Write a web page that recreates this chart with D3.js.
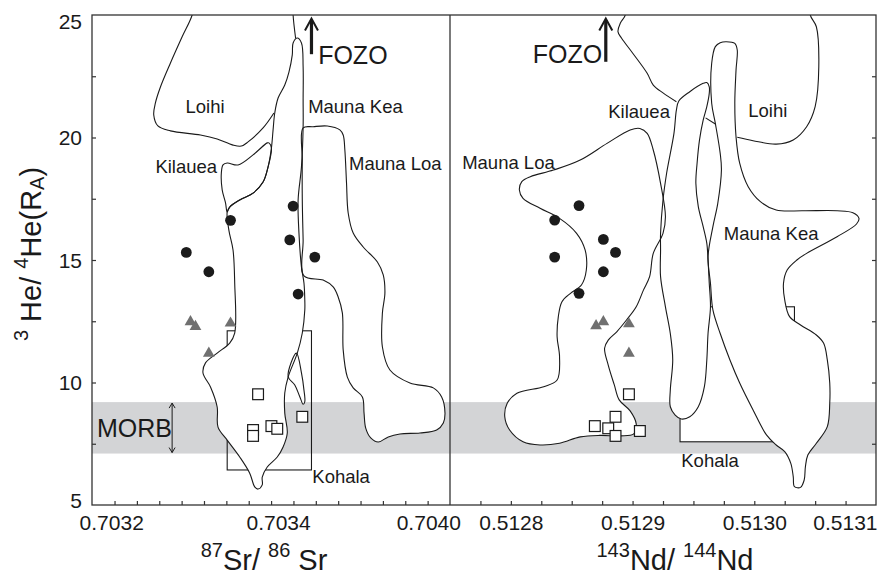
<!DOCTYPE html>
<html><head><meta charset="utf-8">
<script src="https://cdn.jsdelivr.net/npm/d3@7"></script>
<style>body{margin:0;background:#fff}svg{display:block}</style>
</head><body>
<svg id="chart" width="890" height="577"></svg>
<script>
// ---------------- DATA ----------------
const yTickValues = [5, 10, 15, 20, 25];
const yMinorTicks = [7.5, 10, 12.5, 15, 17.5, 20, 22.5];
const srTickValues = [0.7032, 0.7034, 0.70358];
const srTickLabels = ["0.7032", "0.7034", "0.7040"];
const ndTickValues = [0.5128, 0.5129, 0.5130, 0.5131];
const ndTickLabels = ["0.5128", "0.5129", "0.5130", "0.5131"];
const morbBand = [7.1, 9.2];

// samples: [87Sr/86Sr, 3He/4He]
const srCircles = [[0.703290,15.31],[0.703317,14.52],[0.703343,16.62],[0.703418,17.20],[0.703414,15.82],[0.703444,15.12],[0.703424,13.61]];
const srTriangles = [[0.703295,12.48],[0.703301,12.28],[0.703317,11.19],[0.703343,12.42]];
const srSquares = [[0.703376,9.52],[0.703429,8.60],[0.703392,8.22],[0.703399,8.11],[0.703370,8.06],[0.703370,7.82]];
// samples: [143Nd/144Nd, 3He/4He]
const ndCircles = [[0.512856,17.22],[0.512836,16.63],[0.512876,15.84],[0.512886,15.31],[0.512836,15.12],[0.512876,14.52],[0.512856,13.64]];
const ndTriangles = [[0.512870,12.31],[0.512876,12.48],[0.512897,12.39],[0.512897,11.19]];
const ndSquares = [[0.512897,9.52],[0.512886,8.60],[0.512869,8.22],[0.512880,8.13],[0.512886,7.82],[0.512906,8.02]];

// field outlines (Sr panel)
const srLoihi = [[0.703300,25.61],[0.703297,25.0],[0.703285,24.11],[0.703271,23.04],[0.703259,22.06],[0.703253,21.41],[0.703251,20.92],[0.703256,20.47],[0.703271,20.27],[0.703307,20.10],[0.703327,19.94],[0.703346,19.69],[0.703356,19.65],[0.703364,19.82],[0.703382,20.39],[0.703395,21.00]];
const srLoihiTop = [[0.703418,25.61],[0.703418,25.0],[0.703421,24.05]];
const srMaunaKea = [[0.703418,23.86],[0.703423,24.06],[0.703428,23.86],[0.703430,22.88],[0.703430,21.53],[0.703430,20.43],[0.703428,18.80],[0.703424,17.45],[0.703425,16.10],[0.703428,14.71],[0.703431,14.06],[0.703432,13.37],[0.703432,12.96],[0.703429,12.02],[0.703423,11.20],[0.703412,10.22],[0.703408,9.57],[0.703408,8.75],[0.703411,7.94],[0.703406,7.37],[0.703399,6.96],[0.703387,6.55],[0.703381,6.14],[0.703381,5.82],[0.703376,5.65],[0.703372,5.74],[0.703366,6.30],[0.703354,6.96],[0.703339,7.65],[0.703328,8.18],[0.703327,9.00],[0.703319,9.82],[0.703310,10.39],[0.703313,10.80],[0.703327,11.20],[0.703342,11.61],[0.703348,12.02],[0.703348,14.06],[0.703346,15.41],[0.703341,16.22],[0.703339,16.96],[0.703342,17.16],[0.703354,17.45],[0.703370,17.73],[0.703382,18.18],[0.703388,18.80],[0.703392,19.57],[0.703394,20.31],[0.703396,21.00],[0.703400,21.61],[0.703408,22.14],[0.703413,22.67],[0.703417,23.37]];
const srKilauea = [[0.703339,18.96],[0.703334,18.88],[0.703332,18.55],[0.703333,17.86],[0.703337,17.33],[0.703339,16.96],[0.703342,17.16],[0.703354,17.45],[0.703370,17.73],[0.703382,18.18],[0.703388,18.80],[0.703392,19.57],[0.703389,19.78],[0.703387,19.78],[0.703370,19.29],[0.703352,18.88]];
const srMaunaLoa = [[0.703430,20.39],[0.703442,20.44],[0.703459,20.47],[0.703474,20.31],[0.703478,20.10],[0.703480,19.49],[0.703482,18.14],[0.703484,16.92],[0.703490,16.10],[0.703502,15.53],[0.703519,14.92],[0.703526,14.39],[0.703528,13.65],[0.703525,12.84],[0.703525,11.45],[0.703534,10.51],[0.703558,9.98],[0.703586,9.78],[0.703596,9.41],[0.703600,8.75],[0.703598,8.35],[0.703590,8.06],[0.703570,7.94],[0.703546,7.90],[0.703532,7.78],[0.703520,7.57],[0.703511,7.74],[0.703505,8.14],[0.703503,8.75],[0.703501,9.41],[0.703490,9.78],[0.703483,10.22],[0.703478,11.33],[0.703477,12.84],[0.703472,13.49],[0.703466,13.90],[0.703454,14.18],[0.703431,14.35],[0.703430,15.82],[0.703429,17.45],[0.703429,19.08]];
const srSliver = [[0.703422,11.20],[0.703428,10.39],[0.703431,9.69],[0.703432,9.22],[0.703430,9.11],[0.703426,9.42],[0.703420,9.90],[0.703412,10.24]];
const srKohala = [0.703339, 0.703440, 6.43, 12.11];

// field outlines (Nd panel)
const ndLoihiLeft = [[0.512894,25.61],[0.512894,25.0],[0.512890,24.67],[0.512888,24.32],[0.512891,24.05],[0.512900,23.45],[0.512912,22.62],[0.512917,22.14],[0.512925,21.82],[0.512936,21.46]];
const ndLoihiRight = [[0.512986,20.01],[0.512999,19.87],[0.513018,19.73],[0.513032,19.90],[0.513043,20.44],[0.513050,21.26],[0.513053,22.89],[0.513051,24.52],[0.513046,25.0],[0.513046,25.61]];
const ndLoihiLink = [[0.512960,20.80],[0.512968,20.55]];
const ndKilauea = [[0.512938,21.49],[0.512947,21.87],[0.512958,22.21],[0.512961,22.24],[0.512963,22.07],[0.512963,21.80],[0.512961,21.26],[0.512958,20.71],[0.512955,19.90],[0.512953,18.95],[0.512952,18.13],[0.512954,17.18],[0.512958,16.36],[0.512961,15.68],[0.512962,15.0],[0.512963,14.05],[0.512964,13.09],[0.512962,12.00],[0.512961,10.92],[0.512959,9.83],[0.512954,9.01],[0.512947,8.60],[0.512940,8.51],[0.512935,8.67],[0.512931,9.01],[0.512931,9.69],[0.512933,10.92],[0.512931,12.00],[0.512927,13.09],[0.512923,14.32],[0.512923,15.41],[0.512923,16.09],[0.512925,17.45],[0.512928,18.55],[0.512934,20.17],[0.512936,21.12]];
const ndMaunaKea = [[0.512968,23.71],[0.512972,23.87],[0.512977,23.91],[0.512984,23.84],[0.512986,23.57],[0.512985,22.75],[0.512984,21.40],[0.512985,20.03],[0.512988,18.95],[0.512995,17.99],[0.513005,17.38],[0.513018,17.04],[0.513040,17.01],[0.513068,17.01],[0.513081,16.93],[0.513086,16.70],[0.513084,16.47],[0.513068,15.95],[0.513043,15.27],[0.513035,15.0],[0.513027,14.59],[0.513024,14.05],[0.513025,13.37],[0.513029,12.69],[0.513038,12.35],[0.513051,11.94],[0.513057,11.60],[0.513060,10.92],[0.513062,9.98],[0.513062,9.15],[0.513060,8.20],[0.513051,7.52],[0.513044,7.04],[0.513042,6.56],[0.513041,6.02],[0.513038,5.72],[0.513033,5.75],[0.513032,6.16],[0.513030,6.70],[0.513025,7.18],[0.513018,7.45],[0.513010,7.86],[0.512999,8.88],[0.512988,9.98],[0.512980,10.92],[0.512972,12.00],[0.512966,12.96],[0.512964,14.05],[0.512962,15.13],[0.512966,16.36],[0.512970,17.31],[0.512973,18.67],[0.512972,19.35],[0.512968,20.58],[0.512965,21.40],[0.512965,23.03]];
const ndMaunaLoa = [[0.512906,20.37],[0.512898,20.31],[0.512879,19.76],[0.512857,19.08],[0.512835,18.67],[0.512816,18.40],[0.512809,18.20],[0.512807,17.86],[0.512810,17.52],[0.512824,17.11],[0.512840,16.70],[0.512854,16.09],[0.512861,15.41],[0.512862,14.59],[0.512858,13.98],[0.512849,13.64],[0.512842,13.30],[0.512839,12.69],[0.512838,11.87],[0.512840,11.05],[0.512838,10.10],[0.512827,9.83],[0.512805,9.56],[0.512797,9.15],[0.512795,8.60],[0.512799,8.06],[0.512810,7.58],[0.512824,7.45],[0.512840,7.52],[0.512857,7.78],[0.512873,7.84],[0.512890,7.82],[0.512901,7.90],[0.512903,8.31],[0.512898,8.84],[0.512889,9.29],[0.512885,9.90],[0.512880,10.71],[0.512877,11.40],[0.512880,11.73],[0.512887,12.07],[0.512895,12.55],[0.512903,13.09],[0.512909,13.78],[0.512914,14.32],[0.512917,15.27],[0.512925,16.09],[0.512927,16.77],[0.512923,18.13],[0.512917,19.49],[0.512912,20.17]];
const ndKohala = [0.512939, 0.513033, 7.58, 13.09];

// annotations [text, x, y]
const srNames = [["Loihi",0.703289,20.99],["Mauna Kea",0.703436,21.01],["Kilauea",0.703253,18.56],["Mauna Loa",0.703485,18.67],["Kohala",0.703441,5.91]];
const ndNames = [["Kilauea",0.512880,20.78],["Loihi",0.512995,20.85],["Mauna Loa",0.512760,18.70],["Mauna Kea",0.512975,15.82],["Kohala",0.512940,6.56]];
const srFozo = {x: 0.703440, y0: 23.40, tx: 0.703448, ty: 23.0};
const ndFozo = {x: 0.512878, y0: 23.09, tx: 0.512818, ty: 23.03};
const morbLabel = {x: 0.703183, y: 7.79, arrowX: 0.703273};

// ---------------- DRAW ----------------
const FONT = "'Liberation Sans', Arial, Helvetica, sans-serif";
const INK = "#1a1a1a";
const svg = d3.select("#chart");
const y = d3.scaleLinear().domain([5, 25]).range([505, 15]);
const xSr = d3.scaleLinear().domain([0.703177, 0.703606]).range([92, 450]);
const xNd = d3.scaleLinear().domain([0.51275, 0.5131]).range([450, 876]);
const L = xSr.range()[0], M = xSr.range()[1], R = xNd.range()[1];
const T = y(25), B = y(5);

const defs = svg.append("defs");
defs.append("clipPath").attr("id", "clipSr").append("rect")
  .attr("x", L).attr("y", T).attr("width", M - L).attr("height", B - T);
defs.append("clipPath").attr("id", "clipNd").append("rect")
  .attr("x", M).attr("y", T).attr("width", R - M).attr("height", B - T);

// MORB band
svg.append("rect").attr("x", L).attr("width", R - L)
  .attr("y", y(morbBand[1])).attr("height", y(morbBand[0]) - y(morbBand[1]))
  .attr("fill", "#d3d4d6");

function closedLine(xs) {
  return d3.line().x(d => xs(d[0])).y(d => y(d[1])).curve(d3.curveCatmullRomClosed.alpha(0.5));
}
function openLine(xs) {
  return d3.line().x(d => xs(d[0])).y(d => y(d[1])).curve(d3.curveCatmullRom.alpha(0.5));
}

function panel(clipId, xs, kohala, kohalaFill, closedFields, openFields) {
  const g = svg.append("g").attr("clip-path", `url(#${clipId})`);
  g.append("rect")
    .attr("x", xs(kohala[0])).attr("width", xs(kohala[1]) - xs(kohala[0]))
    .attr("y", y(kohala[3])).attr("height", y(kohala[2]) - y(kohala[3]))
    .attr("fill", kohalaFill).attr("stroke", INK).attr("stroke-width", 1.1);
  const cl = closedLine(xs), ol = openLine(xs);
  g.selectAll("path.fill").data(closedFields).join("path").attr("class", "fill")
    .attr("d", cl).attr("fill", "#fff").attr("stroke", "none");
  g.selectAll("path.edge").data(closedFields).join("path").attr("class", "edge")
    .attr("d", cl).attr("fill", "none").attr("stroke", INK).attr("stroke-width", 1.1);
  g.selectAll("path.open").data(openFields).join("path").attr("class", "open")
    .attr("d", ol).attr("fill", "none").attr("stroke", INK).attr("stroke-width", 1.1);
  return g;
}
panel("clipSr", xSr, srKohala, "none", [srMaunaKea, srKilauea, srMaunaLoa, srSliver], [srLoihi, srLoihiTop]);
panel("clipNd", xNd, ndKohala, "#fff", [ndMaunaLoa, ndKilauea, ndMaunaKea], [ndLoihiLeft, ndLoihiRight, ndLoihiLink]);

// markers
function markers(xs, circles, tris, squares) {
  const g = svg.append("g");
  g.selectAll("circle").data(circles).join("circle")
    .attr("cx", d => xs(d[0])).attr("cy", d => y(d[1])).attr("r", 5.4).attr("fill", "#1b1b1b");
  const tri = d3.symbol(d3.symbolTriangle).size(60);
  g.selectAll("path.tri").data(tris).join("path").attr("class", "tri")
    .attr("d", tri).attr("transform", d => `translate(${xs(d[0])},${y(d[1])})`).attr("fill", "#707070");
  g.selectAll("rect").data(squares).join("rect")
    .attr("x", d => xs(d[0]) - 5.4).attr("y", d => y(d[1]) - 5.4)
    .attr("width", 10.8).attr("height", 10.8)
    .attr("fill", "#fff").attr("stroke", INK).attr("stroke-width", 1.2);
}
markers(xSr, srCircles, srTriangles, srSquares);
markers(xNd, ndCircles, ndTriangles, ndSquares);

// field names
function names(xs, arr) {
  svg.append("g").selectAll("text").data(arr).join("text")
    .attr("x", d => xs(d[1])).attr("y", d => y(d[2]))
    .attr("font-family", FONT).attr("font-size", 18.5).attr("fill", INK)
    .text(d => d[0]);
}
names(xSr, srNames);
names(xNd, ndNames);

// FOZO arrows
function fozo(xs, f) {
  const ax = xs(f.x), tip = y(25) + 3.5;
  svg.append("line").attr("x1", ax).attr("x2", ax).attr("y1", y(f.y0)).attr("y2", tip + 1.5)
    .attr("stroke", INK).attr("stroke-width", 3.2);
  svg.append("path").attr("d", `M${ax - 6.5},${tip + 12}L${ax},${tip}L${ax + 6.5},${tip + 12}`)
    .attr("fill", "none").attr("stroke", INK).attr("stroke-width", 2);
  svg.append("text").attr("x", xs(f.tx)).attr("y", y(f.ty))
    .attr("font-family", FONT).attr("font-size", 25).attr("fill", INK).text("FOZO");
}
fozo(xSr, srFozo);
fozo(xNd, ndFozo);

// MORB label and double arrow
svg.append("text").attr("x", xSr(morbLabel.x)).attr("y", y(morbLabel.y))
  .attr("font-family", FONT).attr("font-size", 25).attr("fill", INK).text("MORB");
{
  const ax = xSr(morbLabel.arrowX), t = y(morbBand[1]) + 1, b = y(morbBand[0]) - 1;
  svg.append("line").attr("x1", ax).attr("x2", ax).attr("y1", t).attr("y2", b)
    .attr("stroke", INK).attr("stroke-width", 1);
  svg.append("path").attr("d", `M${ax - 3},${t + 5}L${ax},${t}L${ax + 3},${t + 5}M${ax - 3},${b - 5}L${ax},${b}L${ax + 3},${b - 5}`)
    .attr("fill", "none").attr("stroke", INK).attr("stroke-width", 1);
}

// frame
svg.append("rect").attr("x", L).attr("y", T).attr("width", R - L).attr("height", B - T)
  .attr("fill", "none").attr("stroke", "#333").attr("stroke-width", 1.3);
svg.append("line").attr("x1", M).attr("x2", M).attr("y1", T).attr("y2", B)
  .attr("stroke", "#333").attr("stroke-width", 1.3);

// axes
function styleAxis(g) {
  g.select(".domain").remove();
  g.attr("font-family", FONT).attr("font-size", 21);
  g.selectAll("line").attr("stroke", "#333").attr("stroke-width", 1.2);
  g.selectAll("text").attr("fill", INK);
  return g;
}
const srMinor = d3.range(0.703204, 0.70359, 0.0000268);
const ndMinor = d3.range(0.512775, 0.5130875, 0.000025);
styleAxis(svg.append("g").attr("transform", `translate(0,${B})`)
  .call(d3.axisBottom(xSr).tickValues(srMinor).tickSize(-4).tickFormat("")));
styleAxis(svg.append("g").attr("transform", `translate(0,${B})`)
  .call(d3.axisBottom(xNd).tickValues(ndMinor).tickSize(-4).tickFormat("")));
const srLab = styleAxis(svg.append("g").attr("transform", `translate(0,${B})`)
  .call(d3.axisBottom(xSr).tickValues(srTickValues).tickSize(0).tickFormat((d, i) => srTickLabels[i])));
srLab.selectAll("text").attr("y", 25).attr("dy", 0);
const ndLab = styleAxis(svg.append("g").attr("transform", `translate(0,${B})`)
  .call(d3.axisBottom(xNd).tickValues(ndTickValues).tickSize(0).tickFormat((d, i) => ndTickLabels[i])));
ndLab.selectAll("text").attr("y", 25).attr("dy", 0);
ndLab.selectAll("text").filter((d, i) => i === ndTickValues.length - 1).attr("text-anchor", "end").attr("x", 1);

styleAxis(svg.append("g").attr("transform", `translate(${L},0)`)
  .call(d3.axisLeft(y).tickValues(yMinorTicks).tickSize(-4).tickFormat("")));
styleAxis(svg.append("g").attr("transform", `translate(${R},0)`)
  .call(d3.axisRight(y).tickValues(yMinorTicks).tickSize(-4).tickFormat("")));
const yLab = styleAxis(svg.append("g").attr("transform", `translate(${L},0)`)
  .call(d3.axisLeft(y).tickValues(yTickValues).tickSize(0).tickPadding(10).tickFormat(d3.format("d"))));
yLab.selectAll("text").attr("dy", d => d === 25 ? "0.64em" : d === 5 ? "0.12em" : "0.34em");

// axis titles
function title(x, yy, parts, rotate) {
  const t = svg.append("text").attr("font-family", FONT).attr("fill", INK)
    .attr("text-anchor", "middle")
    .attr("transform", `translate(${x},${yy})` + (rotate ? " rotate(-90)" : ""));
  let shift = 0;
  parts.forEach(p => {
    const s = t.append("tspan").text(p[0]);
    const target = p[1] === "sup" ? -13 : p[1] === "sub" ? 3 : 0;
    s.attr("dy", target - shift).attr("font-size", p[1] ? 20 : 29);
    shift = target;
  });
  return t;
}
title((L + M) / 2 - 7, 570, [["87", "sup"], ["Sr/ ", null], ["86", "sup"], [" Sr", null]]);
title((M + R) / 2 + 12, 570, [["143", "sup"], ["Nd/ ", null], ["144", "sup"], ["Nd", null]]);
title(41, 254, [["3", "sup"], [" He/ ", null], ["4", "sup"], ["He(R", null], ["A", "sub"], [")", null]], true);
</script>
</body></html>
